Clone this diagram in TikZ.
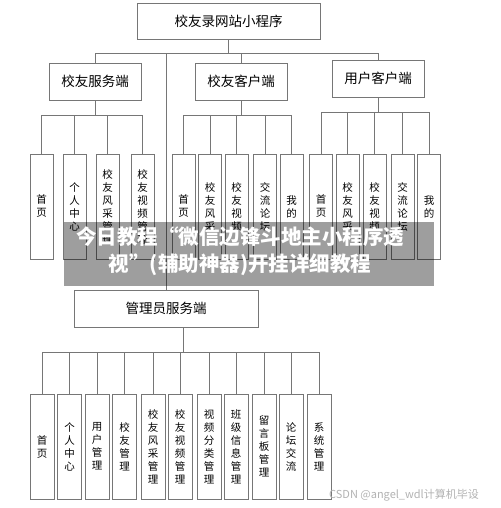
\documentclass[tikz,border=0pt]{standalone}
\usepackage{fontspec}
\setmainfont{Noto Sans CJK SC}
\definecolor{linegray}{RGB}{118,118,118}
\definecolor{markgray}{RGB}{178,178,178}
\tikzset{
  box/.style={draw=linegray, line width=0.8pt, minimum width=92pt, minimum height=37pt,
    inner sep=0pt, font=\fontsize{13.5}{15}\selectfont},
  vbox/.style={draw=linegray, line width=0.8pt, minimum width=23pt, minimum height=105pt,
    inner sep=0pt, align=center, font=\fontsize{10.5}{13}\selectfont},
  link/.style={draw=linegray, line width=0.8pt}
}
\begin{document}
\begin{tikzpicture}[x=1pt,y=-1pt]
\useasboundingbox (0,0) rectangle (500,508);

\node[box, minimum width=183pt, minimum height=36pt] (root) at (228.5,21) {校友录网站小程序};
\node[box] (fw) at (95,81.5) {校友服务端};
\node[box] (kh) at (241,81.5) {校友客户端};
\node[box] (yh) at (378,78.5) {用户客户端};
\node[box, minimum width=184pt] (admin) at (166,308.5) {管理员服务端};

\coordinate (rbus) at (228.5,53);
\coordinate (fwbus) at (95,115);
\coordinate (khbus) at (241,115);
\coordinate (yhbus) at (378,112);
\coordinate (abus) at (183,352);

\draw[link] (root.south) -- (rbus);
\foreach \n in {fw,kh,yh,admin}
  \draw[link] (\n.north) |- (rbus);

% client columns
\foreach \x/\t [count=\i] in {41.5/首\\页, 74.5/个\\人\\中\\心, 107.5/校\\友\\风\\采\\管\\理, 142.5/校\\友\\视\\频\\管\\理}
  \node[vbox] (fw\i) at (\x,206.5) {\t};
\foreach \x/\t [count=\i] in {183.5/首\\页, 210/校\\友\\风\\采, 236.5/校\\友\\视\\频, 265/交\\流\\论\\坛, 291.5/我\\的}
  \node[vbox] (kh\i) at (\x,206.5) {\t};
\foreach \x/\t [count=\i] in {321/首\\页, 347.5/校\\友\\风\\采, 374.5/校\\友\\视\\频, 402.5/交\\流\\论\\坛, 429/我\\的}
  \node[vbox] (yh\i) at (\x,206.5) {\t};

\draw[link] (fw.south) -- (fwbus);
\draw[link] (kh.south) -- (khbus);
\draw[link] (yh.south) -- (yhbus);
\foreach \i in {1,...,4}
  \draw[link] (fw\i.north) |- (fwbus);
\foreach \i in {1,...,5} {
  \draw[link] (kh\i.north) |- (khbus);
  \draw[link] (yh\i.north) |- (yhbus);
}

% admin columns
\foreach \x/\t [count=\i] in {42/首\\页, 69.5/个\\人\\中\\心, 97/用\\户\\管\\理, 124.5/校\\友\\管\\理,
    153/校\\友\\风\\采\\管\\理, 180/校\\友\\视\\频\\管\\理, 209/视\\频\\分\\类\\管\\理,
    236/班\\级\\信\\息\\管\\理, 264/留\\言\\板\\管\\理, 291/论\\坛\\交\\流, 319/系\\统\\管\\理}
  \node[vbox, minimum width=24pt] (ad\i) at (\x,446.5) {\t};

\draw[link] (admin.south -| abus) -- (abus);
\foreach \i in {1,...,11}
  \draw[link] (ad\i.north) |- (abus);

% overlay banner and mark
\fill[black, fill opacity=0.38] (64,222) rectangle (434,286);
\node[text=white, align=center, font=\bfseries\fontsize{20.5}{27}\selectfont] (banner) at (240,251.5)
  {今日教程“微信边锋斗地主小程序透\\视”(辅助神器)开挂详细教程};
\node[text=markgray, font=\fontsize{11}{13}\selectfont] (mark) at (404,495) {CSDN @angel\_wdl计算机毕设};
\end{tikzpicture}
\end{document}
